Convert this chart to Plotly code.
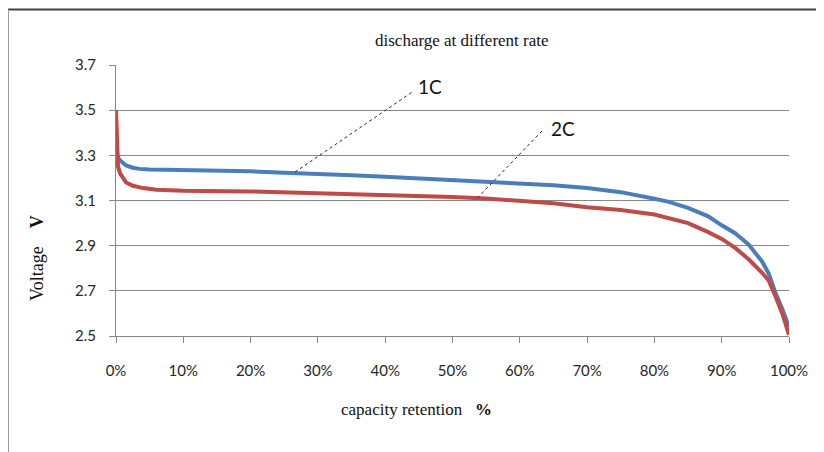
import plotly.graph_objects as go

# capacity retention (fraction) and voltage readings
x_1c = [0, 0.002, 0.005, 0.01, 0.015, 0.025, 0.035, 0.05, 0.10, 0.15, 0.20, 0.25, 0.30, 0.35,
        0.40, 0.45, 0.50, 0.55, 0.60, 0.65, 0.70, 0.75, 0.80, 0.82, 0.85, 0.88, 0.90, 0.92,
        0.94, 0.96, 0.97, 0.98, 0.99, 1.00]
v_1c = [3.33, 3.30, 3.28, 3.265, 3.255, 3.245, 3.24, 3.237, 3.235, 3.232, 3.229, 3.223, 3.219, 3.212,
        3.205, 3.198, 3.191, 3.185, 3.178, 3.168, 3.155, 3.137, 3.108, 3.095, 3.067, 3.03, 2.99, 2.955,
        2.905, 2.83, 2.775, 2.69, 2.62, 2.54]

x_2c = [0, 0.0015, 0.003, 0.006, 0.01, 0.015, 0.025, 0.04, 0.06, 0.10, 0.20, 0.30, 0.40, 0.50,
        0.55, 0.60, 0.65, 0.70, 0.75, 0.80, 0.85, 0.88, 0.90, 0.92, 0.94, 0.96, 0.97, 0.98,
        0.99, 1.00]
v_2c = [3.50, 3.30, 3.25, 3.22, 3.20, 3.18, 3.165, 3.155, 3.148, 3.143, 3.14, 3.133, 3.124, 3.115,
        3.109, 3.099, 3.088, 3.07, 3.058, 3.038, 3.0, 2.96, 2.93, 2.89, 2.84, 2.78, 2.745, 2.675,
        2.60, 2.505]

series_names = ["1C", "2C"]
series_colors = ["#4A7EBB", "#BE4B48"]

y_ticks = [2.5, 2.7, 2.9, 3.1, 3.3, 3.5, 3.7]
x_ticks = [i / 10 for i in range(11)]

fig = go.Figure()
for xs, vs, name, col in [(x_1c, v_1c, series_names[0], series_colors[0]),
                          (x_2c, v_2c, series_names[1], series_colors[1])]:
    fig.add_trace(go.Scatter(x=xs, y=vs, mode="lines", name=name,
                             line=dict(color=col, width=4)))

tick_font = dict(family="Lato, 'Open Sans', sans-serif", size=15, color="#262626")
serif = "'Liberation Serif', 'DejaVu Serif', serif"

fig.update_layout(
    width=816, height=444,
    margin=dict(l=108, r=35, t=57, b=116),
    paper_bgcolor="white", plot_bgcolor="white",
    showlegend=False,
    xaxis=dict(range=[0, 1], tickvals=x_ticks, tickformat=".0%", showgrid=False,
               zeroline=False, showline=True, linecolor="#878787", linewidth=1,
               ticks="outside", ticklen=6, tickcolor="#878787",
               tickfont=tick_font, ticklabelstandoff=15),
    yaxis=dict(range=[2.5, 3.7], tickvals=y_ticks, tickformat=".1f", showgrid=True,
               gridcolor="#878787", gridwidth=1, zeroline=False, showline=True,
               linecolor="#878787", linewidth=1, ticks="outside", ticklen=6,
               tickcolor="#878787", tickfont=tick_font, ticklabelstandoff=10),
)

annotations = [
    dict(text="discharge at different rate", xref="paper", yref="paper", x=0.514, y=1.092,
         xanchor="center", yanchor="middle",
         showarrow=False, font=dict(family=serif, size=17, color="#111")),
    dict(text="Voltage&nbsp;&nbsp;&nbsp;&nbsp;<b>V</b>", xref="paper", yref="paper",
         x=-0.1174, y=0.288, xanchor="center", yanchor="middle", textangle=-90,
         showarrow=False, font=dict(family=serif, size=18, color="#111")),
    dict(text="capacity retention&nbsp;&nbsp;&nbsp;<b>%</b>", xref="paper", yref="paper",
         x=0.447, y=-0.273, xanchor="center", yanchor="middle",
         showarrow=False, font=dict(family=serif, size=17, color="#111")),
    dict(text="1C", xref="x", yref="y", x=0.4666, y=3.603, xanchor="center", yanchor="middle",
         showarrow=False, font=dict(family=tick_font["family"], size=19, color="#111")),
    dict(text="2C", xref="x", yref="y", x=0.664, y=3.421, xanchor="center", yanchor="middle",
         showarrow=False, font=dict(family=tick_font["family"], size=19, color="#111")),
]
fig.update_layout(annotations=annotations)

shapes = [
    # leader lines
    dict(type="line", xref="x", yref="y", x0=0.266, y0=3.226, x1=0.44, y1=3.58,
         line=dict(color="#222", width=1, dash="dot")),
    dict(type="line", xref="x", yref="y", x0=0.537, y0=3.111, x1=0.634, y1=3.411,
         line=dict(color="#222", width=1, dash="dot")),
    # outer frame
    dict(type="line", xref="paper", yref="paper", x0=-0.1605, y0=1.205, x1=1.06, y1=1.205,
         line=dict(color="#404040", width=2)),
    dict(type="line", xref="paper", yref="paper", x0=-0.1605, y0=1.205, x1=-0.1605, y1=-0.43,
         line=dict(color="#999999", width=2)),
]
fig.update_layout(shapes=shapes)

fig.write_html("out.html")
